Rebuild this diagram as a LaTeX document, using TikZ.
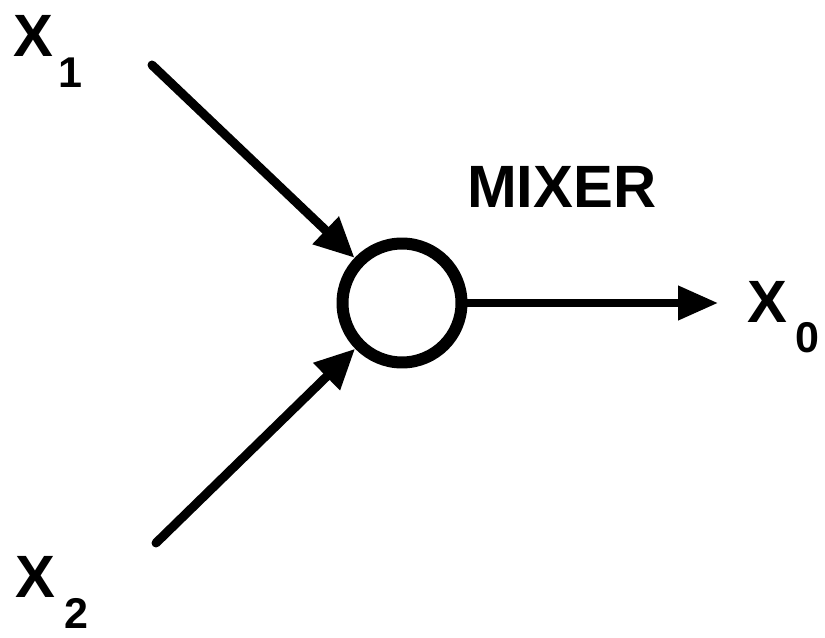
\documentclass[tikz,border=0pt]{standalone}
\usepackage{fontspec}
\setmainfont{Liberation Sans}
\usetikzlibrary{arrows.meta}
\newcommand{\bigf}{\fontsize{34pt}{40pt}\selectfont\bfseries}
\newcommand{\subf}{\fontsize{24.5pt}{28pt}\selectfont\bfseries}
\begin{document}
\begin{tikzpicture}[x=0.02cm,y=-0.02cm,
  lbl/.style={anchor=base west,inner sep=0pt,outer sep=0pt,font=\bigf},
  inarrow/.style={line width=0.18cm,line cap=round,-{Triangle[length=0.8cm,width=0.72cm]}},
  outarrow/.style={line width=0.15cm,-{Triangle[length=0.8cm,width=0.66cm]}},
  mixer/.style={circle,draw,line width=0.24cm,minimum size=2.38cm,inner sep=0pt}]
\useasboundingbox (0,0) rectangle (825,638);
\node[mixer] (mix) at (402,303) {};
\node[lbl] (x1) at (13,57) {X\hspace{3.4pt}\raisebox{-17.6pt}{\subf 1}};
\node[lbl] (x2) at (15,597) {X\hspace{5.7pt}\raisebox{-17.8pt}{\subf 2}};
\node[lbl] (x0) at (747,323) {X\hspace{5pt}\raisebox{-17pt}{\subf 0}};
\node[lbl] (title) at (467,208) {MIXER};
\coordinate (a1) at (152,65);
\coordinate (a2) at (156,543);
\coordinate (out) at (718,303);
\draw[inarrow] (a1) -- (mix);
\draw[inarrow] (a2) -- (mix);
\draw[outarrow] (mix) -- (out);
\end{tikzpicture}
\end{document}
